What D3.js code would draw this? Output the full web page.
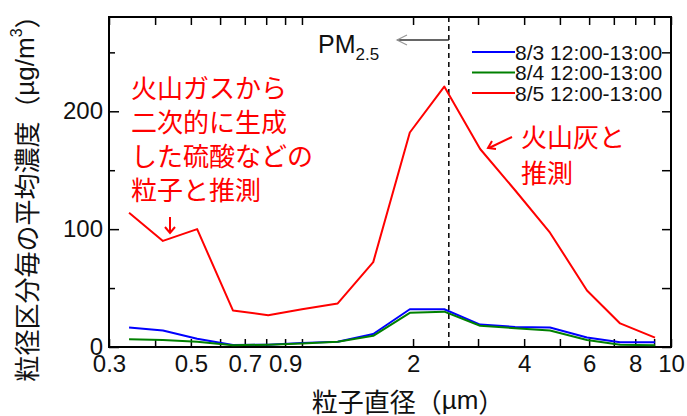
<!DOCTYPE html>
<html>
<head>
<meta charset="utf-8">
<script src="https://cdn.jsdelivr.net/npm/d3@7"></script>
<style>
  body { margin: 0; background: #fff; }
</style>
</head>
<body>
<svg id="chart" width="687" height="416"></svg>
<script>
// particle diameter bins (µm)
const diameters = [0.34, 0.42, 0.52, 0.65, 0.81, 1.0, 1.25, 1.56, 1.96, 2.43, 3.04, 3.78, 4.7, 5.92, 7.28, 9.05];
// mean concentration per bin (µg/m3)
const conc0803 = [16.5, 14, 7, 1.7, 2, 3.5, 4.5, 11, 32, 32, 19, 17, 16.5, 8, 4, 4];
const conc0804 = [6.5, 6, 4.5, 1.5, 2, 3, 4.5, 9.5, 29, 30, 18, 16, 14, 6, 2, 1.5];
const conc0805 = [114, 90, 100, 31, 27, 32, 37, 72, 182, 221, 168, 133, 97, 48, 20, 8];
const seriesNames = ["8/3 12:00-13:00", "8/4 12:00-13:00", "8/5 12:00-13:00"];
const seriesColors = ["#0000ff", "#008000", "#ff0000"];

const xTicks = [0.3, 0.4, 0.5, 0.6, 0.7, 0.8, 0.9, 1, 2, 3, 4, 5, 6, 7, 8, 9, 10];
const xLabels = [0.3, 0.5, 0.7, 0.9, 2, 4, 6, 8, 10];
const yMajor = [0, 100, 200];
const yMinor = [50, 150, 250];
const pmCut = 2.5;

const svg = d3.select("#chart");
const pLeft = 109, pRight = 671, pTop = 17, pBottom = 347;
const latin = "'Liberation Sans', Arial, sans-serif";
const cjk = "'Noto Sans CJK JP', sans-serif";

const x = d3.scaleLog().domain([0.3, 10]).range([pLeft, pRight]);
const y = d3.scaleLinear().domain([0, 280]).range([pBottom, pTop]);

// axes (ticks point inwards)
function styleAxis(g) {
  g.select(".domain").remove();
  g.selectAll("line").attr("stroke", "#000").attr("stroke-width", 1.5);
  g.selectAll("text").attr("font-family", latin).style("font-size", "24px").attr("fill", "#111");
}

svg.append("g").attr("transform", `translate(0,${pBottom})`)
  .call(d3.axisBottom(x).tickValues(xTicks).tickSize(-8).tickFormat(""))
  .call(styleAxis);
// labelled positions only
svg.append("g").attr("transform", `translate(0,${pBottom})`)
  .call(d3.axisBottom(x).tickValues(xLabels).tickSize(0).tickPadding(8)
    .tickFormat(d => String(d)))
  .call(styleAxis);
svg.append("g").attr("transform", `translate(0,${pTop})`)
  .call(d3.axisTop(x).tickValues(xTicks).tickSize(-8).tickFormat(""))
  .call(styleAxis);

svg.append("g").attr("transform", `translate(${pLeft},0)`)
  .call(d3.axisLeft(y).tickValues(yMajor).tickSize(-10).tickPadding(6))
  .call(styleAxis);
svg.append("g").attr("transform", `translate(${pLeft},0)`)
  .call(d3.axisLeft(y).tickValues(yMinor).tickSize(-6).tickFormat(""))
  .call(styleAxis);
svg.append("g").attr("transform", `translate(${pRight},0)`)
  .call(d3.axisRight(y).tickValues(yMajor.concat(yMinor)).tickSize(-9).tickFormat(""))
  .call(styleAxis);

// frame
svg.append("rect")
  .attr("x", pLeft).attr("y", pTop)
  .attr("width", pRight - pLeft).attr("height", pBottom - pTop)
  .attr("fill", "none").attr("stroke", "#000").attr("stroke-width", 2);

// PM2.5 cut line
svg.append("line")
  .attr("x1", x(pmCut)).attr("x2", x(pmCut))
  .attr("y1", pTop).attr("y2", pBottom)
  .attr("stroke", "#000").attr("stroke-width", 1.5)
  .attr("stroke-dasharray", "5,4");

svg.append("line")
  .attr("x1", x(pmCut)).attr("x2", 397).attr("y1", 40).attr("y2", 40)
  .attr("stroke", "#333").attr("stroke-width", 1.5);
svg.append("polyline")
  .attr("points", "407,35 397,40 407,45")
  .attr("fill", "none").attr("stroke", "#999").attr("stroke-width", 1.2);

const pm = svg.append("text").attr("x", 318).attr("y", 53)
  .attr("font-family", latin).attr("fill", "#111");
pm.append("tspan").style("font-size", "25px").text("PM");
pm.append("tspan").attr("dy", 7).style("font-size", "17px").text("2.5");

// series
const line = d3.line()
  .x((d, i) => x(diameters[i]))
  .y(d => y(d));

[conc0803, conc0804, conc0805].forEach((s, k) => {
  svg.append("path")
    .datum(s)
    .attr("d", line)
    .attr("fill", "none")
    .attr("stroke", seriesColors[k])
    .attr("stroke-width", 2)
    .attr("stroke-linejoin", "round");
});

// legend
seriesNames.forEach((name, k) => {
  const ly = 52 + k * 20.5;
  svg.append("line")
    .attr("x1", 472).attr("x2", 515).attr("y1", ly).attr("y2", ly)
    .attr("stroke", seriesColors[k]).attr("stroke-width", 2);
  svg.append("text")
    .attr("x", 515).attr("y", ly)
    .attr("dominant-baseline", "central")
    .attr("font-family", latin).style("font-size", "21px").attr("fill", "#111")
    .text(name);
});

// annotations
const red = "#ff0000";
const noteLeft = ["火山ガスから", "二次的に生成", "した硫酸などの", "粒子と推測"];
noteLeft.forEach((t, i) => {
  svg.append("text")
    .attr("x", 131).attr("y", 86 + i * 34)
    .attr("dominant-baseline", "central")
    .attr("font-family", cjk).style("font-size", "26px").attr("fill", red)
    .text(t);
});
const noteRight = ["火山灰と", "推測"];
noteRight.forEach((t, i) => {
  svg.append("text")
    .attr("x", 521).attr("y", 135 + i * 36)
    .attr("dominant-baseline", "central")
    .attr("font-family", cjk).style("font-size", "26px").attr("fill", red)
    .text(t);
});

svg.append("line").attr("x1", 170).attr("x2", 170).attr("y1", 217).attr("y2", 233)
  .attr("stroke", red).attr("stroke-width", 2);
svg.append("polyline").attr("points", "165,227 170,233 175,227")
  .attr("fill", "none").attr("stroke", red).attr("stroke-width", 2);

svg.append("line").attr("x1", 512).attr("x2", 489).attr("y1", 137).attr("y2", 148)
  .attr("stroke", red).attr("stroke-width", 2);
svg.append("polyline").attr("points", "492,141 488,148 496,149")
  .attr("fill", "none").attr("stroke", red).attr("stroke-width", 2);

// axis titles
const xt = svg.append("text")
  .attr("x", 408).attr("y", 400)
  .attr("text-anchor", "middle").attr("dominant-baseline", "central")
  .attr("font-family", cjk).style("font-size", "26px").attr("fill", "#111");
xt.append("tspan").text("粒子直径（");
xt.append("tspan").attr("font-family", latin).text("µm");
xt.append("tspan").text("）");

const yt = svg.append("text")
  .attr("transform", "translate(25,192) rotate(-90)")
  .attr("text-anchor", "middle").attr("dominant-baseline", "central")
  .attr("font-family", cjk).style("font-size", "26px").attr("fill", "#111");
yt.append("tspan").text("粒径区分毎の平均濃度（");
yt.append("tspan").attr("font-family", latin).text("µg/m");
yt.append("tspan").attr("font-family", latin).style("font-size", "16px").attr("dy", -9).text("3");
yt.append("tspan").attr("dy", 9).text("）");
</script>
</body>
</html>
